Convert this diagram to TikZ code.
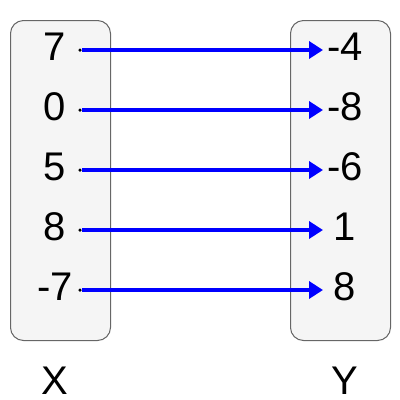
\documentclass[tikz,border=0pt]{standalone}
\usepackage{fontspec}
\setmainfont{Liberation Sans}
\usetikzlibrary{arrows.meta}
\definecolor{boxline}{HTML}{666666}
\definecolor{boxfill}{HTML}{F5F5F5}
\definecolor{mapblue}{HTML}{0000FF}
\begin{document}
\begin{tikzpicture}[x=1pt,y=-1pt,
  setbox/.style={draw=boxline, fill=boxfill, line width=1pt, rounded corners=13pt,
    minimum width=100pt, minimum height=320pt, anchor=north west, inner sep=0pt},
  num/.style={font=\fontsize{40}{40}\selectfont, anchor=base, inner sep=0pt},
  mapto/.style={draw=mapblue, line width=3.6pt, -{Triangle[length=14pt,width=17pt]}},
  srcdot/.style={circle, fill=black, inner sep=0pt, minimum size=3.5pt}]
\useasboundingbox (0,0) rectangle (400,400);
\node[setbox] (boxX) at (10,20) {};
\node[setbox] (boxY) at (290,20) {};
% left values
\node[num] (x1) at (55,60.7) {7};
\node[num] (x2) at (55,120.7) {0};
\node[num] (x3) at (55,180.7) {5};
\node[num] (x4) at (55,240.7) {8};
\node[num] (x5) at (55,300.7) {-7};
% right values
\node[num] (y1) at (345,60.7) {-4};
\node[num] (y2) at (345,120.7) {-8};
\node[num] (y3) at (345,180.7) {-6};
\node[num] (y4) at (345,240.7) {1};
\node[num] (y5) at (345,300.7) {8};
% dots and arrow ends
\foreach \i/\r in {1/50,2/110,3/170,4/230,5/290}{
  \node[srcdot] (d\i) at (80,\r) {};
  \coordinate (e\i) at (323,\r);
}
\foreach \i in {1,...,5}{
  \draw[mapto] (d\i.east) -- (e\i);
}
% set labels
\node[num] (labX) at (55,394.5) {X};
\node[num] (labY) at (345,394.5) {Y};
\end{tikzpicture}
\end{document}
